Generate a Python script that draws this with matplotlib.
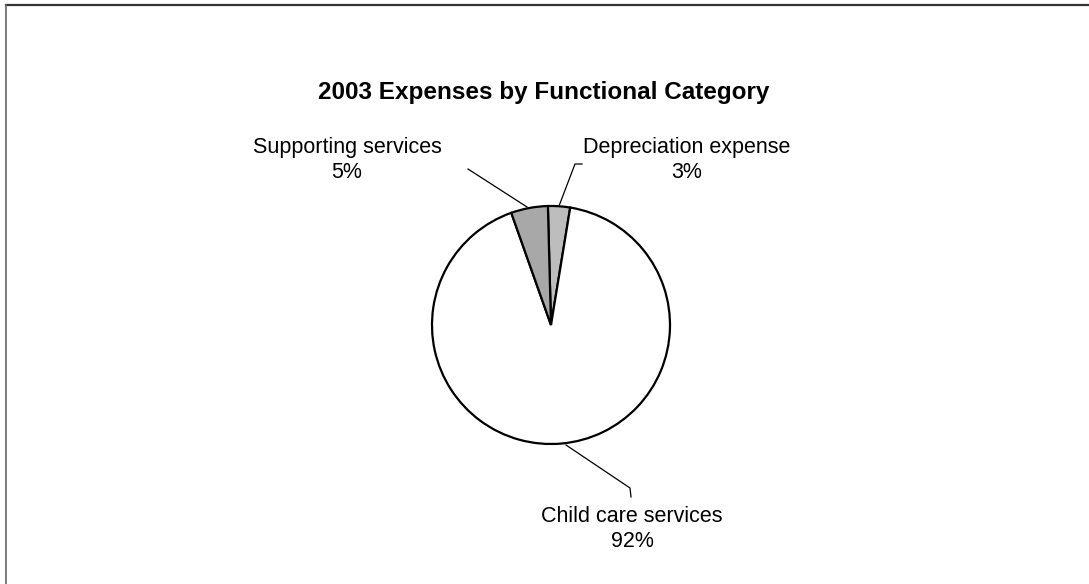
import matplotlib.pyplot as plt
from matplotlib.lines import Line2D

plt.rcParams['font.family'] = ['Liberation Sans', 'DejaVu Sans']

# Data
categories = ['Depreciation expense', 'Child care services', 'Supporting services']
shares = [3, 92, 5]
colors = ['#bdbdbd', '#ffffff', '#a8a8a8']

W, H = 1089, 584
cx, cy, R = 551, 325, 119  # pie centre / radius in pixels


def d(px, py):
    # pixel position (from top-left) -> data units of the pie axes
    return (px - cx) / R, (cy - py) / R


fig = plt.figure(figsize=(W / 100, H / 100), dpi=100)
ax = fig.add_axes([0, 0, 1, 1])

wedges, _ = ax.pie(shares, colors=colors, startangle=91.5, counterclock=False,
                   radius=1, center=(0, 0), frame=False,
                   wedgeprops=dict(edgecolor='black', linewidth=1.6))
ax.set_xlim(-cx / R, (W - cx) / R)
ax.set_ylim(-(H - cy) / R, cy / R)
ax.set_aspect('equal')
ax.axis('off')

# labels with leader lines
label_pos = [(687, 160), (632, 529), (347, 160)]
leaders = [
    [(582, 164), (575, 164), (559, 206)],
    [(566, 445), (630, 488), (631, 497)],
    [(468, 169), (527, 207)],
]
for name, val, (lx, ly), pts in zip(categories, shares, label_pos, leaders):
    x, y = d(lx, ly)
    ax.text(x, y, f'{name}\n{val}%', ha='center', va='center',
            fontsize=15.5, linespacing=1.3)
    xs, ys = zip(*[d(px, py) for px, py in pts])
    ax.plot(xs, ys, color='black', linewidth=0.9)

fig.text(544 / W, 1 - 92 / H, '2003 Expenses by Functional Category',
         ha='center', va='center', fontsize=17.5, fontweight='bold')

# chart border (top and left edges)
fig.add_artist(Line2D([6 / W, 1], [1 - 5 / H, 1 - 5 / H], color='#333333', linewidth=1.6))
fig.add_artist(Line2D([6 / W, 6 / W], [0, 1 - 5 / H], color='#666666', linewidth=1.2))

fig.savefig('out.png', dpi=100, facecolor='white')
